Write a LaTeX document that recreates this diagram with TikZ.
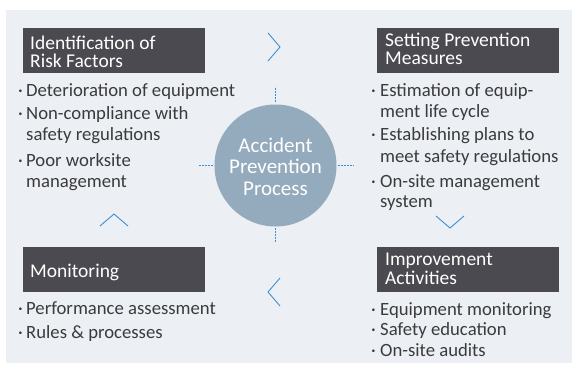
\documentclass[tikz,border=0pt]{standalone}
\usepackage{fontspec}
\setmainfont{Carlito}
\definecolor{bg}{HTML}{ECEFF4}
\definecolor{hdr}{HTML}{4B4A50}
\definecolor{circ}{HTML}{94AABD}
\definecolor{accent}{HTML}{3D8FD1}
\definecolor{txt}{HTML}{3B3B3B}
\begin{document}
\begin{tikzpicture}[x=1pt,y=-1pt,
  hdrbox/.style={fill=hdr,draw=none,minimum width=182pt,minimum height=45pt,inner sep=0pt,anchor=north west},
  hdrtext/.style={text=white,font=\fontsize{19.5}{18}\selectfont,anchor=base west,inner sep=0pt},
  body/.style={text=txt,font=\fontsize{18.7}{18}\selectfont,anchor=base west,inner sep=0pt},
  bul/.style={text=txt,font=\fontsize{18.7}{18}\selectfont,anchor=base west,inner sep=0pt},
  ctext/.style={text=white,font=\fontsize{21}{21}\selectfont,anchor=base,inner sep=0pt},
  dotline/.style={accent,line width=1.5pt,dash pattern=on 1.4pt off 1.6pt},
  chev/.style={accent,line width=0.9pt}]
\useasboundingbox (0,0) rectangle (574,365);
\fill[white] (0,0) rectangle (574,365);
\fill[bg] (6,10) rectangle (572,363);
% header boxes
\node[hdrbox] (b1) at (23,28) {};
\node[hdrbox] (b2) at (377,28) {};
\node[hdrbox] (b3) at (23,247) {};
\node[hdrbox] (b4) at (377,247) {};
\node[hdrtext] (h1a) at (30,49) {Identification of};
\node[hdrtext] (h1b) at (30,67) {Risk Factors};
\node[hdrtext] (h2a) at (385,46) {Setting Prevention};
\node[hdrtext] (h2b) at (385,64.5) {Measures};
\node[hdrtext] (h3a) at (30,277) {Monitoring};
\node[hdrtext] (h4a) at (385,265.5) {Improvement};
\node[hdrtext] (h4b) at (385,284.5) {Activities};
% left top body
\node[bul] (d1) at (18,96) {·};
\node[body] (t1) at (26,96) {Deterioration of equipment};
\node[bul] (d2) at (18,119) {·};
\node[body] (t2) at (26,119) {Non-compliance with};
\node[body] (t3) at (26,140) {safety regulations};
\node[bul] (d3) at (18,166) {·};
\node[body] (t4) at (26,166) {Poor worksite};
\node[body] (t5) at (26,187) {management};
% right top body
\node[bul] (e1) at (371,96) {·};
\node[body] (s1) at (380,96) {Estimation of equip-};
\node[body] (s2) at (380,117) {ment life cycle};
\node[bul] (e2) at (371,140) {·};
\node[body] (s3) at (380,140) {Establishing plans to};
\node[body] (s4) at (380,162) {meet safety regulations};
\node[bul] (e3) at (371,187) {·};
\node[body] (s5) at (380,187) {On-site management};
\node[body] (s6) at (380,207) {system};
% bottom left body
\node[bul] (f1) at (18,314) {·};
\node[body] (m1) at (26,314) {Performance assessment};
\node[bul] (f2) at (18,338) {·};
\node[body] (m2) at (26,338) {Rules \& processes};
% bottom right body
\node[bul] (g1) at (371,315) {·};
\node[body] (i1) at (380,315) {Equipment monitoring};
\node[bul] (g2) at (371,335) {·};
\node[body] (i2) at (380,335) {Safety education};
\node[bul] (g3) at (371,356) {·};
\node[body] (i3) at (380,356) {On-site audits};
% circle
\node[circle,fill=circ,minimum size=122pt,inner sep=0pt] (c) at (275.5,165.5) {};
\node[ctext] (c1) at (275.5,152) {Accident};
\node[ctext] (c2) at (275.5,173) {Prevention};
\node[ctext] (c3) at (275.5,195) {Process};
% dotted connectors
\draw[dotline,shorten <=2.5pt] (c.north) -- ++(0,-17.5);
\draw[dotline,shorten <=1.5pt] (c.south) -- ++(0,15.5);
\draw[dotline,shorten <=1.5pt] (c.west) -- ++(-15.5,0);
\draw[dotline,shorten <=1.5pt] (c.east) -- ++(17.5,0);
% chevrons
\coordinate (k1) at (280,47);
\coordinate (k2) at (268,292);
\coordinate (k3) at (114,214);
\coordinate (k4) at (450,228);
\draw[chev] (k1) ++(-12,-14) -- (k1) -- ++(-12,14);
\draw[chev] (k2) ++(12,-14) -- (k2) -- ++(12,14);
\draw[chev] (k3) ++(-14,12) -- (k3) -- ++(14,12);
\draw[chev] (k4) ++(-14,-12) -- (k4) -- ++(14,-12);
\end{tikzpicture}
\end{document}
